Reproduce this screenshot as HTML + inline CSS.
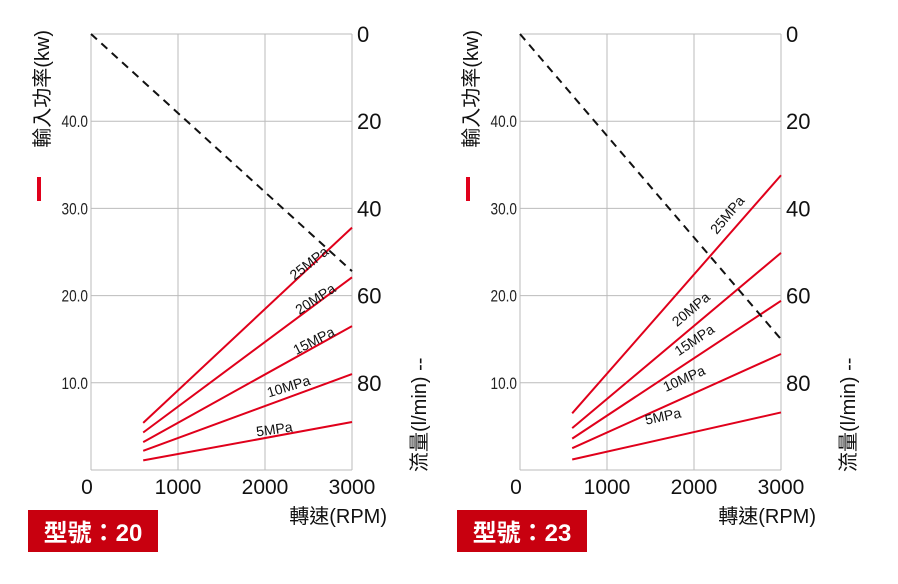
<!DOCTYPE html>
<html><head><meta charset="utf-8"><style>
body{margin:0;background:#fff;width:898px;height:584px;overflow:hidden}
svg{display:block}
</style></head><body>
<svg id="c" width="898" height="584" xmlns="http://www.w3.org/2000/svg"></svg>
<script>
const xTicks=[0,1000,2000,3000];
const kwTicks=[10,20,30,40];
const kwTickLabels=["10.0","20.0","30.0","40.0"];
const flowTicks=[0,20,40,60,80];
const pressures=["25MPa","20MPa","15MPa","10MPa","5MPa"];
const rpmStart=600, rpmEnd=3000;
const m20Start=[5.4,4.3,3.2,2.2,1.1];
const m20End=[27.8,22.1,16.5,11.0,5.5];
const m20FlowEnd=54.4;
const m23Start=[6.5,4.8,3.6,2.5,1.2];
const m23End=[33.8,24.9,19.4,13.3,6.6];
const m23FlowEnd=70;
const m20LabelPos=[[312,262,-38],[318,298,-33],[316,340,-27],[290,386,-17],[275,429,-8]];
const m23LabelPos=[[731,213,-50],[694,308,-40],[697,339,-34],[686,378,-24],[664,416,-12]];

const svg=document.getElementById('c');
const NS='http://www.w3.org/2000/svg';
function mk(tag,attrs,parent){const e=document.createElementNS(NS,tag);for(const k in attrs)e.setAttribute(k,attrs[k]);(parent||svg).appendChild(e);return e;}

function chart(x0,model,starts,ends,flowEnd,labelPos,key){
  const x1=x0+261, top=34, bot=470;
  const X=r=>x0+(r/3000)*(x1-x0);
  const Y=k=>bot-(k/50)*(bot-top);
  const F=f=>top+(f/100)*(bot-top);
  const g=mk('g',{});
  
  
  // grid
  xTicks.forEach(t=>{const l=mk('line',{x1:X(t),x2:X(t),y1:top,y2:bot,stroke:'#bbb','stroke-width':1},g);
    });
  kwTicks.forEach(t=>{const l=mk('line',{x1:x0,x2:x1,y1:Y(t),y2:Y(t),stroke:'#bbb','stroke-width':1},g);
    });
  mk('line',{x1:x0,x2:x1,y1:top,y2:top,stroke:'#bbb'},g);
  mk('line',{x1:x0,x2:x1,y1:bot,y2:bot,stroke:'#bbb'},g);
  // left tick labels
  kwTicks.forEach((t,i)=>{const tx=mk('text',{x:x0-3,y:Y(t)+6,'text-anchor':'end','font-size':17,'font-family':'Liberation Sans Narrow, Liberation Sans, sans-serif',fill:'#222',transform:`translate(${x0-3},0) scale(0.8,1) translate(${-(x0-3)},0)`},g);
    tx.textContent=kwTickLabels[i];});
  // right tick labels
  flowTicks.forEach(t=>{const tx=mk('text',{x:x1+5,y:F(t)+8,'font-size':22,'font-family':'Liberation Sans, sans-serif',fill:'#111'},g);
    tx.textContent=t;});
  // x tick labels
  xTicks.forEach(t=>{const tx=mk('text',{x:X(t)-(t===0?4:0),y:494,'text-anchor':'middle','font-size':21,'font-family':'Liberation Sans, sans-serif',fill:'#111'},g);
    tx.textContent=t;});
  // x title
  const xt=mk('text',{x:x1+35,y:523,'text-anchor':'end','font-size':20,'font-family':'Liberation Sans, Noto Sans CJK TC, sans-serif',fill:'#111'},g);
  xt.textContent='轉速(RPM)';
  // left title
  const lt=mk('text',{x:0,y:0,'text-anchor':'end','font-size':20,'font-family':'Liberation Sans, Noto Sans CJK TC, sans-serif',fill:'#111',transform:`translate(${x0-42},30) rotate(-90)`},g);
  lt.textContent='輸入功率(kw)';
  const lb=mk('rect',{x:x0-54,y:177,width:4,height:24,fill:'#e0001b'},g);
  
  // right title
  const rt=mk('text',{x:0,y:0,'font-size':20,'font-family':'Liberation Sans, Noto Sans CJK TC, sans-serif',fill:'#111',transform:`translate(${x1+74},472) rotate(-90)`},g);
  rt.textContent='流量(l/min) ‐‐';
  // power lines
  pressures.forEach((p,i)=>{const l=mk('line',{x1:X(rpmStart),y1:Y(starts[i]),x2:X(rpmEnd),y2:Y(ends[i]),stroke:'#e0001b','stroke-width':2},g);
    
    const lp=labelPos[i];
    const tx=mk('text',{x:0,y:0,'text-anchor':'middle','font-size':14,'font-family':'Liberation Sans, sans-serif',fill:'#111',transform:`translate(${lp[0]},${lp[1]+5}) rotate(${lp[2]})`},g);
    tx.textContent=p;});
  // flow dashed
  const d=mk('line',{x1:X(0),y1:F(0),x2:X(3000),y2:F(flowEnd),stroke:'#111','stroke-width':2,'stroke-dasharray':'8,6'},g);
  
  // badge
  const b=mk('rect',{x:x0-63,y:510,width:130,height:42,fill:'#c8000f'},g);
  
  const bt=mk('text',{x:x0+2,y:541,'text-anchor':'middle','font-size':24,'font-weight':'bold','font-family':'Liberation Sans, Noto Sans CJK TC, sans-serif',fill:'#fff'},g);
  bt.textContent='型號：'+model;
}
chart(91,'20',m20Start,m20End,m20FlowEnd,m20LabelPos,'model-20');
chart(520,'23',m23Start,m23End,m23FlowEnd,m23LabelPos,'model-23');
</script>
</body></html>
